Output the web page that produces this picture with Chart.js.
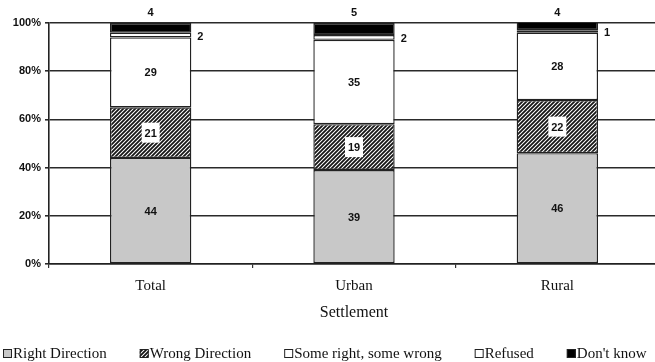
<!DOCTYPE html>
<html>
<head>
<meta charset="utf-8">
<script src="https://cdn.jsdelivr.net/npm/chart.js@4/dist/chart.umd.min.js"></script>
<style>
  html, body { margin: 0; padding: 0; background: #fff; overflow: hidden; }
  #wrap { width: 659px; height: 362px; }
</style>
</head>
<body>
<div id="wrap"><canvas id="c" width="659" height="362"></canvas></div>
<script>
// Survey shares (%) by settlement type
const categories = ['Total', 'Urban', 'Rural'];
const rightDirection = [44, 39, 46];
const wrongDirection = [21, 19, 22];
const someRightSomeWrong = [29, 35, 28];
const refused = [2, 2, 1];
const dontKnow = [4, 5, 4];
const seriesNames = ['Right Direction', 'Wrong Direction', 'Some right, some wrong', 'Refused', "Don't know"];
const yTickValues = [0, 20, 40, 60, 80, 100];

// diagonal hatch fill
function makeHatch() {
  const p = document.createElement('canvas');
  p.width = 4; p.height = 4;
  const g = p.getContext('2d');
  g.fillStyle = '#ffffff';
  g.fillRect(0, 0, 4, 4);
  g.strokeStyle = '#151515';
  g.lineWidth = 1.8;
  g.beginPath();
  g.moveTo(-1, 5); g.lineTo(5, -1);
  g.moveTo(-1, 1); g.lineTo(1, -1);
  g.moveTo(3, 5); g.lineTo(5, 3);
  g.stroke();
  return g.createPattern(p, 'repeat');
}
const ctx = document.getElementById('c').getContext('2d');
const hatch = makeHatch();

const fills = ['#c8c8c8', hatch, '#ffffff', '#ffffff', '#000000'];
const values = [rightDirection, wrongDirection, someRightSomeWrong, refused, dontKnow];

const datasets = values.map((v, i) => ({
  label: seriesNames[i],
  data: v,
  backgroundColor: fills[i],
  borderColor: '#222',
  borderWidth: 1.4,
  borderSkipped: false,
  categoryPercentage: 1,
  barPercentage: 0.4
}));

// value labels on segments
const segmentLabels = {
  id: 'segmentLabels',
  afterDatasetsDraw(chart) {
    const c = chart.ctx;
    const area = chart.chartArea;
    c.save();
    c.font = 'bold 11px "Liberation Sans", Arial, sans-serif';
    c.fillStyle = '#111';
    c.textBaseline = 'middle';
    chart.data.datasets.forEach((ds, di) => {
      const meta = chart.getDatasetMeta(di);
      meta.data.forEach((el, i) => {
        const v = ds.data[i];
        const top = Math.max(el.y, area.top);
        const mid = (top + el.base) / 2;
        const txt = String(v);
        if (di <= 2) {
          if (di === 1) {
            c.fillStyle = '#fff';
            c.fillRect(el.x - 9, mid - 10, 18, 20);
            c.fillStyle = '#111';
          }
          c.textAlign = 'center';
          c.fillText(txt, el.x, mid + 1);
        } else if (di === 3) {
          c.textAlign = 'left';
          c.fillText(txt, el.x + el.width / 2 + 6, mid + 2);
        } else {
          c.textAlign = 'center';
          c.fillText(txt, el.x, area.top - 10);
        }
      });
    });
    c.restore();
  }
};

// legend row along the bottom
const bottomLegend = {
  id: 'bottomLegend',
  afterDraw(chart) {
    const c = chart.ctx;
    c.save();
    c.font = '15px "Liberation Serif", "Times New Roman", serif';
    c.textBaseline = 'middle';
    c.textAlign = 'left';
    let x = 3;
    const y = 354;
    chart.data.datasets.forEach((ds) => {
      c.fillStyle = ds.backgroundColor;
      c.fillRect(x, y - 5, 9, 9);
      c.strokeStyle = '#222';
      c.lineWidth = 1;
      c.strokeRect(x + 0.5, y - 4.5, 8, 8);
      c.fillStyle = '#111';
      c.fillText(ds.label, x + 10, y);
      x += 10 + c.measureText(ds.label).width + 33;
    });
    c.restore();
  }
};

new Chart(ctx, {
  type: 'bar',
  data: { labels: categories, datasets },
  options: {
    responsive: false,
    animation: false,
    layout: { padding: { top: 23, right: 0, bottom: 40, left: 0 } },
    plugins: { legend: { display: false }, tooltip: { enabled: false } },
    scales: {
      x: {
        stacked: true,
        offset: true,
        afterFit(scale) { scale.height = 58; },
        grid: { display: true, drawOnChartArea: false, drawTicks: true, tickLength: 4, color: '#333', lineWidth: 1.2 },
        border: { display: true, color: '#222', width: 1.6 },
        ticks: { color: '#111', padding: 9, font: { family: '"Liberation Serif", "Times New Roman", serif', size: 15 } },
        title: { display: true, text: 'Settlement', color: '#111', padding: { top: 0, bottom: 0 }, font: { family: '"Liberation Serif", "Times New Roman", serif', size: 16 } }
      },
      y: {
        stacked: true,
        min: 0,
        max: 100,
        afterFit(scale) { scale.width = 49; },
        afterBuildTicks(scale) { scale.ticks = yTickValues.map(v => ({ value: v })); },
        grid: { color: '#2a2a2a', lineWidth: 1.6, tickLength: 4 },
        border: { display: true, color: '#222', width: 1.6 },
        ticks: {
          color: '#111',
          padding: 4,
          font: { family: '"Liberation Sans", Arial, sans-serif', size: 11, weight: 'bold' },
          callback: (v) => v + '%'
        }
      }
    }
  },
  plugins: [segmentLabels, bottomLegend]
});
</script>
</body>
</html>
